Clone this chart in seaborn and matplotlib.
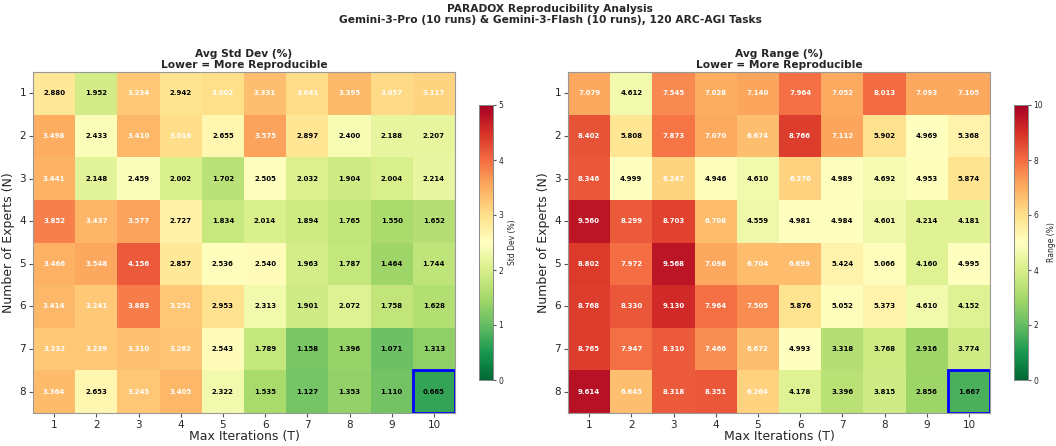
import numpy as np
import pandas as pd
import matplotlib
matplotlib.use('Agg')
from matplotlib import pyplot as plt
from matplotlib.patches import Rectangle
import seaborn as sns

experts = [1, 2, 3, 4, 5, 6, 7, 8]
iterations = [1, 2, 3, 4, 5, 6, 7, 8, 9, 10]

# avg std dev (%) per N (rows) x T (cols)
std_vals = [
    [2.880, 1.952, 3.234, 2.942, 3.002, 3.331, 3.041, 3.395, 3.057, 3.117],
    [3.498, 2.433, 3.410, 3.016, 2.655, 3.575, 2.897, 2.400, 2.188, 2.207],
    [3.441, 2.148, 2.459, 2.002, 1.702, 2.505, 2.032, 1.904, 2.004, 2.214],
    [3.852, 3.437, 3.577, 2.727, 1.834, 2.014, 1.894, 1.765, 1.550, 1.652],
    [3.466, 3.548, 4.156, 2.857, 2.536, 2.540, 1.963, 1.787, 1.464, 1.744],
    [3.414, 3.241, 3.883, 3.252, 2.953, 2.313, 1.901, 2.072, 1.758, 1.628],
    [3.232, 3.239, 3.310, 3.262, 2.543, 1.789, 1.158, 1.396, 1.071, 1.313],
    [3.364, 2.653, 3.245, 3.405, 2.322, 1.535, 1.127, 1.353, 1.110, 0.665],
]

# avg range (%)
range_vals = [
    [7.079, 4.612, 7.545, 7.028, 7.140, 7.964, 7.052, 8.013, 7.093, 7.105],
    [8.402, 5.808, 7.873, 7.070, 6.674, 8.766, 7.112, 5.902, 4.969, 5.368],
    [8.346, 4.999, 6.247, 4.946, 4.610, 6.276, 4.989, 4.692, 4.953, 5.874],
    [9.560, 8.299, 8.703, 6.708, 4.559, 4.981, 4.984, 4.601, 4.214, 4.181],
    [8.802, 7.972, 9.568, 7.098, 6.704, 6.699, 5.424, 5.066, 4.160, 4.995],
    [8.768, 8.330, 9.130, 7.964, 7.505, 5.876, 5.052, 5.373, 4.610, 4.152],
    [8.765, 7.947, 8.310, 7.466, 6.672, 4.993, 3.318, 3.768, 2.916, 3.774],
    [9.614, 6.645, 8.318, 8.351, 6.264, 4.178, 3.396, 3.815, 2.856, 1.667],
]

sns.set_style('white')
plt.rcParams['font.family'] = ['DejaVu Sans']

fig = plt.figure(figsize=(10.56, 4.46), dpi=100)
fig.suptitle('PARADOX Reproducibility Analysis\n'
             'Gemini-3-Pro (10 runs) & Gemini-3-Flash (10 runs), 120 ARC-AGI Tasks',
             fontsize=7.7, fontweight='bold', x=0.521, y=0.99, linespacing=1.05)

W, H = 1056.0, 446.0
panels = [
    (std_vals, 5, 'Avg Std Dev (%)\nLower = More Reproducible', 'Std Dev (%)', 33, 479),
    (range_vals, 10, 'Avg Range (%)\nLower = More Reproducible', 'Range (%)', 568, 1014),
]

for vals, vmax, title, cbl, x0, cx0 in panels:
    ax = fig.add_axes([x0 / W, 1 - 413 / H, 422 / W, 341 / H])
    cax = fig.add_axes([cx0 / W, 1 - 380 / H, 14 / W, 275 / H])
    df = pd.DataFrame(vals, index=experts, columns=iterations)
    sns.heatmap(df, ax=ax, cbar_ax=cax, cmap='RdYlGn_r', vmin=0, vmax=vmax,
                annot=False)
    arr = df.values
    for i in range(arr.shape[0]):
        for j in range(arr.shape[1]):
            v = arr[i, j]
            c = 'white' if v > 0.6 * vmax else 'black'
            ax.text(j + 0.5, i + 0.5, f'{v:.3f}', ha='center', va='center',
                    fontsize=5, fontweight='bold', color=c)
    # best cell
    bi, bj = np.unravel_index(np.argmin(arr), arr.shape)
    ax.add_patch(Rectangle((bj, bi), 1, 1, fill=False, edgecolor='blue', lw=2))
    ax.set_title(title, fontsize=7.7, fontweight='bold', linespacing=1.05, pad=3)
    ax.set_xlabel('Max Iterations (T)', fontsize=9, labelpad=0)
    ax.set_ylabel('Number of Experts (N)', fontsize=9, labelpad=3)
    ax.tick_params(axis='both', labelsize=7.5, length=3, pad=2, color='#555555',
                   left=True, bottom=True)
    ax.set_yticklabels(experts, rotation=0)
    for s in ax.spines.values():
        s.set_visible(True)
        s.set_color('#999999')
        s.set_linewidth(0.8)
    cax.tick_params(labelsize=5.5, length=2.5, pad=1.5, color='#555555')
    cax.set_ylabel(cbl, fontsize=5.5, labelpad=3)
    for s in cax.spines.values():
        s.set_visible(True)
        s.set_color('#888888')
        s.set_linewidth(0.6)

fig.savefig('out.png', dpi=100)
